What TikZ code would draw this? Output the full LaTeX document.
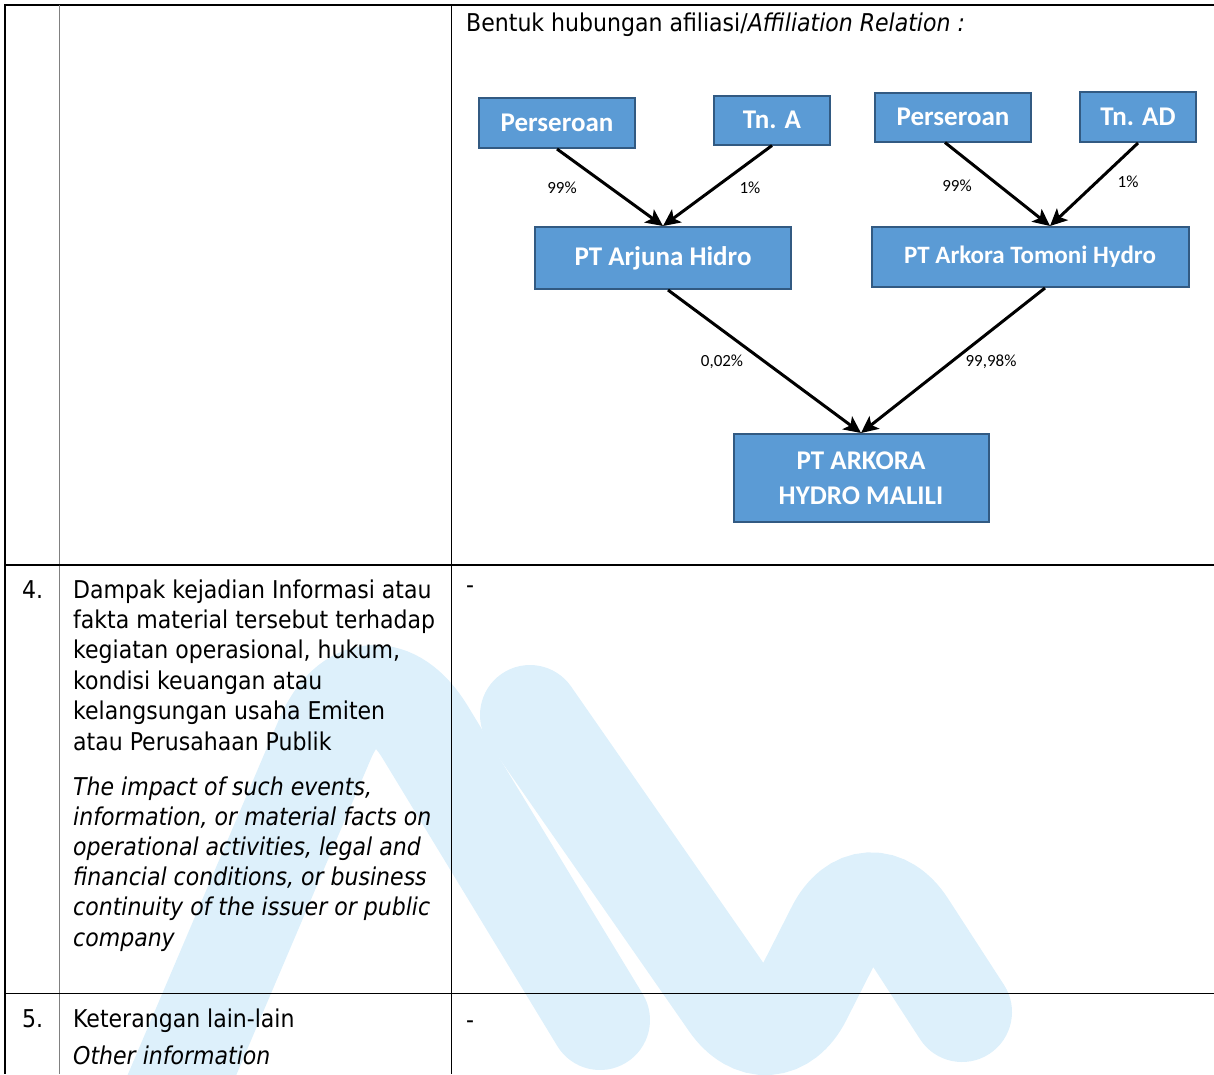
\documentclass[tikz,border=0pt]{standalone}
\usepackage{fontspec}
\IfFontExistsTF{DejaVu Sans Condensed}{\setmainfont{DejaVu Sans Condensed}}{\setmainfont{DejaVu Sans}}
\newfontfamily\boxfont{Carlito}
\usetikzlibrary{
  arrows.meta,
  positioning,
}
\definecolor{boxblue}{RGB}{91,155,213}
\definecolor{boxedge}{RGB}{50,90,130}
\definecolor{wmark}{RGB}{221,240,251}
\tikzset{
  >={Stealth[length=17pt,width=16pt,inset=4pt]},
  company/.style={draw=boxedge, fill=boxblue, line width=2pt, text=white,
    font=\boxfont\bfseries\fontsize{27}{35}\selectfont, inner sep=0pt, align=center},
  share/.style={->, line width=3pt},
  pct/.style={font=\boxfont\fontsize{17}{20}\selectfont, inner sep=0pt},
  body/.style={font=\fontsize{24.5}{30}\selectfont, anchor=base west, inner sep=0pt},
  band/.style={draw=wmark, line width=100pt, line cap=round},
}

\begin{document}
\begin{tikzpicture}[x=1pt, y=-1pt]
  \useasboundingbox (0,0) rectangle (1214,1074);

  % watermark
  \begin{scope}
    \clip (0,0) rectangle (1214,1074);
    \draw[band, rounded corners=110pt] (150,1150) -- (368,638) -- (600,1020);
    \draw[band, rounded corners=70pt] (530,715) -- (770,1060) -- (868,867) -- (962,1012);
  \end{scope}

  % table rules
  \draw[line width=2.2pt] (5,5) -- (1214,5);
  \draw[line width=1.8pt] (5,4) -- (5,1074);
  \draw[line width=0.8pt, gray] (59,5) -- (59,1074);
  \draw[line width=1pt] (451,5) -- (451,1074);
  \draw[line width=2pt] (5,565) -- (1214,565);
  \draw[line width=1pt] (5,993) -- (1214,993);

  % row 3: diagram
  \node[body] (title) at (466,31) {Bentuk hubungan afiliasi/\textit{Affiliation Relation :}};

  \node[company, minimum width=156pt, minimum height=50pt] (pers1) at (557,123) {Perseroan};
  \node[company, minimum width=116pt, minimum height=49pt] (tna) at (772,120) {Tn. A};
  \node[company, minimum width=256pt, minimum height=62pt] (arjuna) at (663,258) {PT Arjuna Hidro};
  \node[company, minimum width=156pt, minimum height=49pt] (pers2) at (953,117) {Perseroan};
  \node[company, minimum width=116pt, minimum height=50pt] (tnad) at (1138,117) {Tn. AD};
  \node[company, minimum width=317pt, minimum height=60pt,
    font=\boxfont\bfseries\fontsize{25}{30}\selectfont] (tomoni) at (1030,257) {PT Arkora Tomoni Hydro};
  \node[company, minimum width=255pt, minimum height=88pt] (malili) at (861,478) {PT ARKORA\\HYDRO MALILI};

  \draw[share] (pers1.south) -- (arjuna.north);
  \draw[share] (tna.south) -- (arjuna.north);
  \draw[share] ([xshift=-8pt]pers2.south) -- ([xshift=20pt]tomoni.north);
  \draw[share] (tnad.south) -- ([xshift=20pt]tomoni.north);
  \draw[share] ([xshift=5pt]arjuna.south) -- (malili.north);
  \draw[share] ([xshift=15pt]tomoni.south) -- (malili.north);

  \node[pct] (p1) at (562,188) {99\%};
  \node[pct] (p2) at (750,188) {1\%};
  \node[pct] (p3) at (957,186) {99\%};
  \node[pct] (p4) at (1128,182) {1\%};
  \node[pct] (p5) at (722,362) {0,02\%};
  \node[pct] (p6) at (991,362) {99,98\%};

  % row 4
  \node[body] (n4) at (22,598) {4.};
  \foreach \txt [count=\i from 0] in {{Dampak kejadian Informasi atau},
      {fakta material tersebut terhadap}, {kegiatan operasional, hukum,},
      {kondisi keuangan atau}, {kelangsungan usaha Emiten},
      {atau Perusahaan Publik}}
    \node[body] (id\i) at (73,{598+30.4*\i}) {\txt};
  \foreach \txt [count=\i from 0] in {{The impact of such events,},
      {information, or material facts on}, {operational activities, legal and},
      {financial conditions, or business}, {continuity of the issuer or public},
      {company}}
    \node[body, font=\fontsize{24.5}{30}\selectfont\itshape] (en\i) at (73,{795+30.2*\i}) {\txt};
  \node[body] (d4) at (466,593) {-};

  % row 5
  \node[body] (n5) at (22,1027) {5.};
  \node[body] (k5) at (73,1027) {Keterangan lain-lain};
  \node[body, font=\fontsize{24.5}{30}\selectfont\itshape] (o5) at (73,1064) {Other information};
  \node[body] (d5) at (466,1028) {-};
\end{tikzpicture}
\end{document}
